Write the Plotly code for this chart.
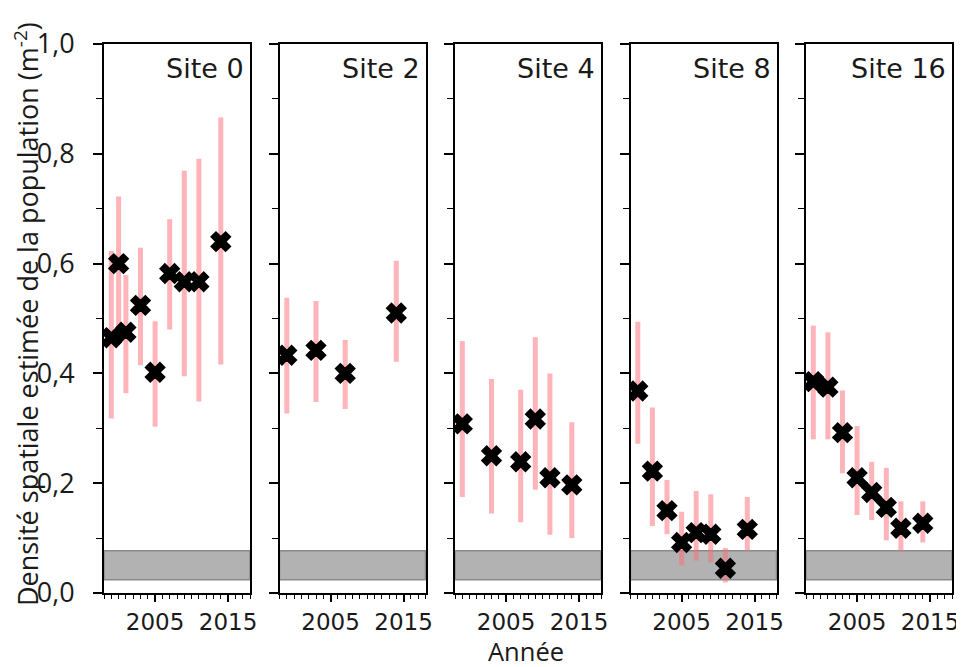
import plotly.graph_objects as go

# ---------------- data ----------------
sites = ["Site 0", "Site 2", "Site 4", "Site 8", "Site 16"]

years0 = [1999, 2000, 2001, 2003, 2005, 2007, 2009, 2011, 2014]
dens0 = [0.465, 0.600, 0.475, 0.524, 0.402, 0.582, 0.567, 0.567, 0.640]
hi0 = [0.623, 0.722, 0.579, 0.629, 0.495, 0.681, 0.769, 0.791, 0.866]
lo0 = [0.318, 0.480, 0.364, 0.415, 0.303, 0.480, 0.395, 0.349, 0.416]

years2 = [1999, 2003, 2007, 2014]
dens2 = [0.433, 0.442, 0.400, 0.510]
hi2 = [0.538, 0.532, 0.461, 0.605]
lo2 = [0.327, 0.348, 0.335, 0.421]

years4 = [1999, 2003, 2007, 2009, 2011, 2014]
dens4 = [0.308, 0.250, 0.239, 0.317, 0.210, 0.197]
hi4 = [0.459, 0.390, 0.370, 0.466, 0.400, 0.311]
lo4 = [0.175, 0.145, 0.129, 0.188, 0.106, 0.100]

years8 = [1999, 2001, 2003, 2005, 2007, 2009, 2011, 2014]
dens8 = [0.368, 0.222, 0.150, 0.092, 0.110, 0.107, 0.045, 0.116]
hi8 = [0.494, 0.338, 0.206, 0.148, 0.186, 0.180, 0.082, 0.175]
lo8 = [0.272, 0.122, 0.107, 0.050, 0.059, 0.056, 0.019, 0.077]

years16 = [1999, 2001, 2003, 2005, 2007, 2009, 2011, 2014]
dens16 = [0.385, 0.375, 0.292, 0.210, 0.183, 0.156, 0.118, 0.127]
hi16 = [0.487, 0.475, 0.369, 0.304, 0.239, 0.228, 0.167, 0.167]
lo16 = [0.280, 0.280, 0.218, 0.142, 0.133, 0.096, 0.077, 0.092]

band_lo = 0.024
band_hi = 0.077

x_tickvals = [2005, 2015]
x_ticktext = ["2005", "2015"]
y_tickvals = [0.0, 0.2, 0.4, 0.6, 0.8, 1.0]
y_ticktext = ["0,0", "0,2", "0,4", "0,6", "0,8", "1,0"]

y_title = "Densité spatiale estimée de la population (m<sup>-2</sup>)"
x_title = "Année"

series = [
    (years0, dens0, hi0, lo0),
    (years2, dens2, hi2, lo2),
    (years4, dens4, hi4, lo4),
    (years8, dens8, hi8, lo8),
    (years16, dens16, hi16, lo16),
]

# ---------------- figure ----------------
# the page body has an 8px margin: the figure starts at (8, 8) in the window
OFF = 8
W, H = 964 - OFF, 667 - OFF
ml, mr, mt, mb = 104 - OFF, 964 - 952, 44 - OFF, 667 - 593
pw = W - ml - mr
ph = H - mt - mb
panel_w = 146
step = (pw - panel_w) / 4

fig = go.Figure()
layout = dict(
    width=W, height=H,
    margin=dict(l=ml, r=mr, t=mt, b=mb, autoexpand=False),
    plot_bgcolor="white", paper_bgcolor="white",
    showlegend=False,
    font=dict(family="DejaVu Sans", color="#1a1a1a"),
)

shapes = []
annotations = []
for i, (yrs, d, hi, lo) in enumerate(series):
    n = i + 1
    xa = "x" if n == 1 else f"x{n}"
    ya = "y" if n == 1 else f"y{n}"
    plus = [h - v for h, v in zip(hi, d)]
    minus = [v - l for v, l in zip(d, lo)]
    fig.add_trace(go.Scatter(
        x=yrs, y=d, mode="markers", xaxis=xa, yaxis=ya,
        marker=dict(symbol="x", size=17, color="black", line=dict(width=1.5, color="black")),
        error_y=dict(type="data", symmetric=False, array=plus, arrayminus=minus,
                     color="rgba(255,105,115,0.5)", thickness=5, width=0),
        name=sites[i],
    ))
    start = (i * step) / pw
    end = (i * step + panel_w) / pw
    xkey = "xaxis" if n == 1 else f"xaxis{n}"
    ykey = "yaxis" if n == 1 else f"yaxis{n}"
    layout[xkey] = dict(
        domain=[start, end], range=[1998, 2018], anchor=ya, automargin=False,
        tickvals=x_tickvals, ticktext=x_ticktext,
        ticks="outside", ticklen=7, tickwidth=1.5, tickcolor="black",
        minor=dict(dtick=1, tick0=2000, ticks="outside", ticklen=4, tickwidth=1, tickcolor="black"),
        showline=True, linecolor="black", linewidth=1.8, mirror=True,
        showgrid=False, zeroline=False,
        tickfont=dict(family="DejaVu Sans", size=23, color="#1a1a1a"),
    )
    layout[ykey] = dict(
        domain=[0, 1], range=[0, 1.0], anchor=xa, automargin=False,
        tickvals=y_tickvals, ticktext=y_ticktext,
        showticklabels=(n == 1), ticklabelstandoff=13,
        ticks="outside", ticklen=9, tickwidth=1.5, tickcolor="black",
        minor=dict(dtick=0.1, ticks="outside", ticklen=6, tickwidth=1, tickcolor="black"),
        showline=True, linecolor="black", linewidth=1.8, mirror=True,
        showgrid=False, zeroline=False,
        tickfont=dict(family="Open Sans", size=27, color="#1a1a1a"),
    )
    shapes.append(dict(
        type="rect", xref=f"{xa} domain", yref=ya, x0=0, x1=1, y0=band_lo, y1=band_hi,
        fillcolor="#b2b2b2", line=dict(color="#8a8a8a", width=1.5), layer="below",
    ))
    annotations.append(dict(
        text=sites[i], xref=f"{xa} domain", yref=f"{ya} domain", x=1, y=1,
        xanchor="right", yanchor="top", xshift=-4, yshift=-7, showarrow=False,
        font=dict(family="DejaVu Sans", size=27, color="#1a1a1a"),
    ))

# positions below are given in window pixels
annotations.append(dict(
    text=y_title, xref="paper", yref="paper",
    x=(26 - OFF - ml) / pw, y=(H - mb - (314 - OFF)) / ph,
    xanchor="center", yanchor="middle", textangle=-90, showarrow=False,
    font=dict(family="Open Sans", size=27, color="#1a1a1a"),
))
annotations.append(dict(
    text=x_title, xref="paper", yref="paper",
    x=(526 - OFF - ml) / pw, y=(H - mb - (651 - OFF)) / ph,
    xanchor="center", yanchor="middle", showarrow=False,
    font=dict(family="Open Sans", size=25.5, color="#1a1a1a"),
))
layout["shapes"] = shapes
layout["annotations"] = annotations
fig.update_layout(**layout)

fig.write_html("out.html")
